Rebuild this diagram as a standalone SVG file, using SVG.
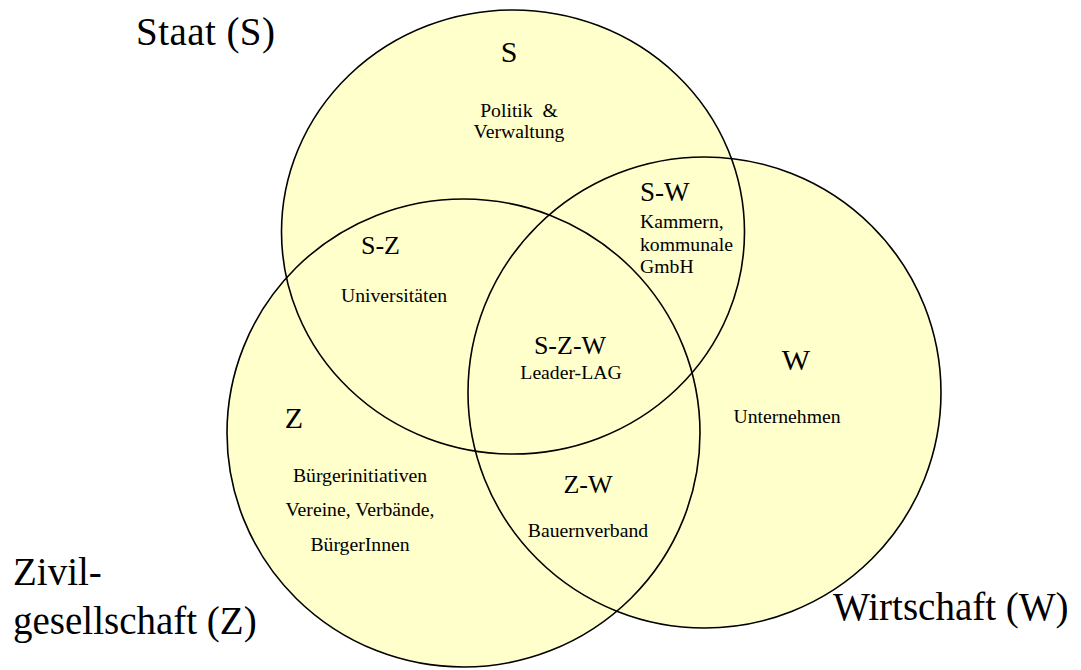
<svg xmlns="http://www.w3.org/2000/svg" width="1081" height="670" viewBox="0 0 1081 670">
<style>
.fill{fill:#FFFFCC;stroke:none}
.ring{fill:none;stroke:#000;stroke-width:1.6}
text{font-family:"Liberation Serif","Times New Roman",serif;fill:#000}
.big{font-size:39px}
.head{font-size:30px;text-anchor:middle}
.mid{font-size:26px;text-anchor:middle}
.small{font-size:19.7px;text-anchor:middle}
.left{font-size:19.7px}
.sw{font-size:27px}
</style>
<rect width="1081" height="670" fill="#fff"/>
<g id="fills">
<ellipse class="fill" cx="513" cy="232" rx="231.5" ry="222"/>
<ellipse class="fill" cx="463.5" cy="433" rx="236.5" ry="234"/>
<ellipse class="fill" cx="704.5" cy="392.5" rx="236.5" ry="235.5"/>
</g>
<g id="staat">
<ellipse class="ring" cx="513" cy="232" rx="231.5" ry="222"/>
<text class="big" x="136" y="45" textLength="139">Staat (S)</text>
<text class="head" x="509" y="62">S</text>
<text class="small" x="519" y="117">Politik &#160;&amp;</text>
<text class="small" x="519" y="138">Verwaltung</text>
</g>
<g id="zivil">
<ellipse class="ring" cx="463.5" cy="433" rx="236.5" ry="234"/>
<text class="big" x="13" y="585">Zivil-</text>
<text class="big" x="13" y="634">gesellschaft (Z)</text>
<text class="head" x="294" y="428">Z</text>
<text class="small" x="360" y="482">Bürgerinitiativen</text>
<text class="small" x="360" y="516">Vereine, Verbände,</text>
<text class="small" x="360" y="551">BürgerInnen</text>
</g>
<g id="wirtschaft">
<ellipse class="ring" cx="704.5" cy="392.5" rx="236.5" ry="235.5"/>
<text class="big" x="833" y="620">Wirtschaft (W)</text>
<text class="head" x="796" y="370">W</text>
<text class="small" x="787" y="423">Unternehmen</text>
</g>
<g id="s-w">
<text class="sw" x="640" y="201">S-W</text>
<text class="left" x="640" y="228">Kammern,</text>
<text class="left" x="640" y="251">kommunale</text>
<text class="left" x="640" y="273">GmbH</text>
</g>
<g id="s-z">
<text class="mid" x="380.5" y="254">S-Z</text>
<text class="small" x="394" y="302">Universitäten</text>
</g>
<g id="s-z-w">
<text class="mid" x="570" y="354">S-Z-W</text>
<text class="small" x="571" y="379">Leader-LAG</text>
</g>
<g id="z-w">
<text class="mid" x="588" y="493">Z-W</text>
<text class="small" x="588" y="537">Bauernverband</text>
</g>
<g id="connectors"></g>
</svg>
